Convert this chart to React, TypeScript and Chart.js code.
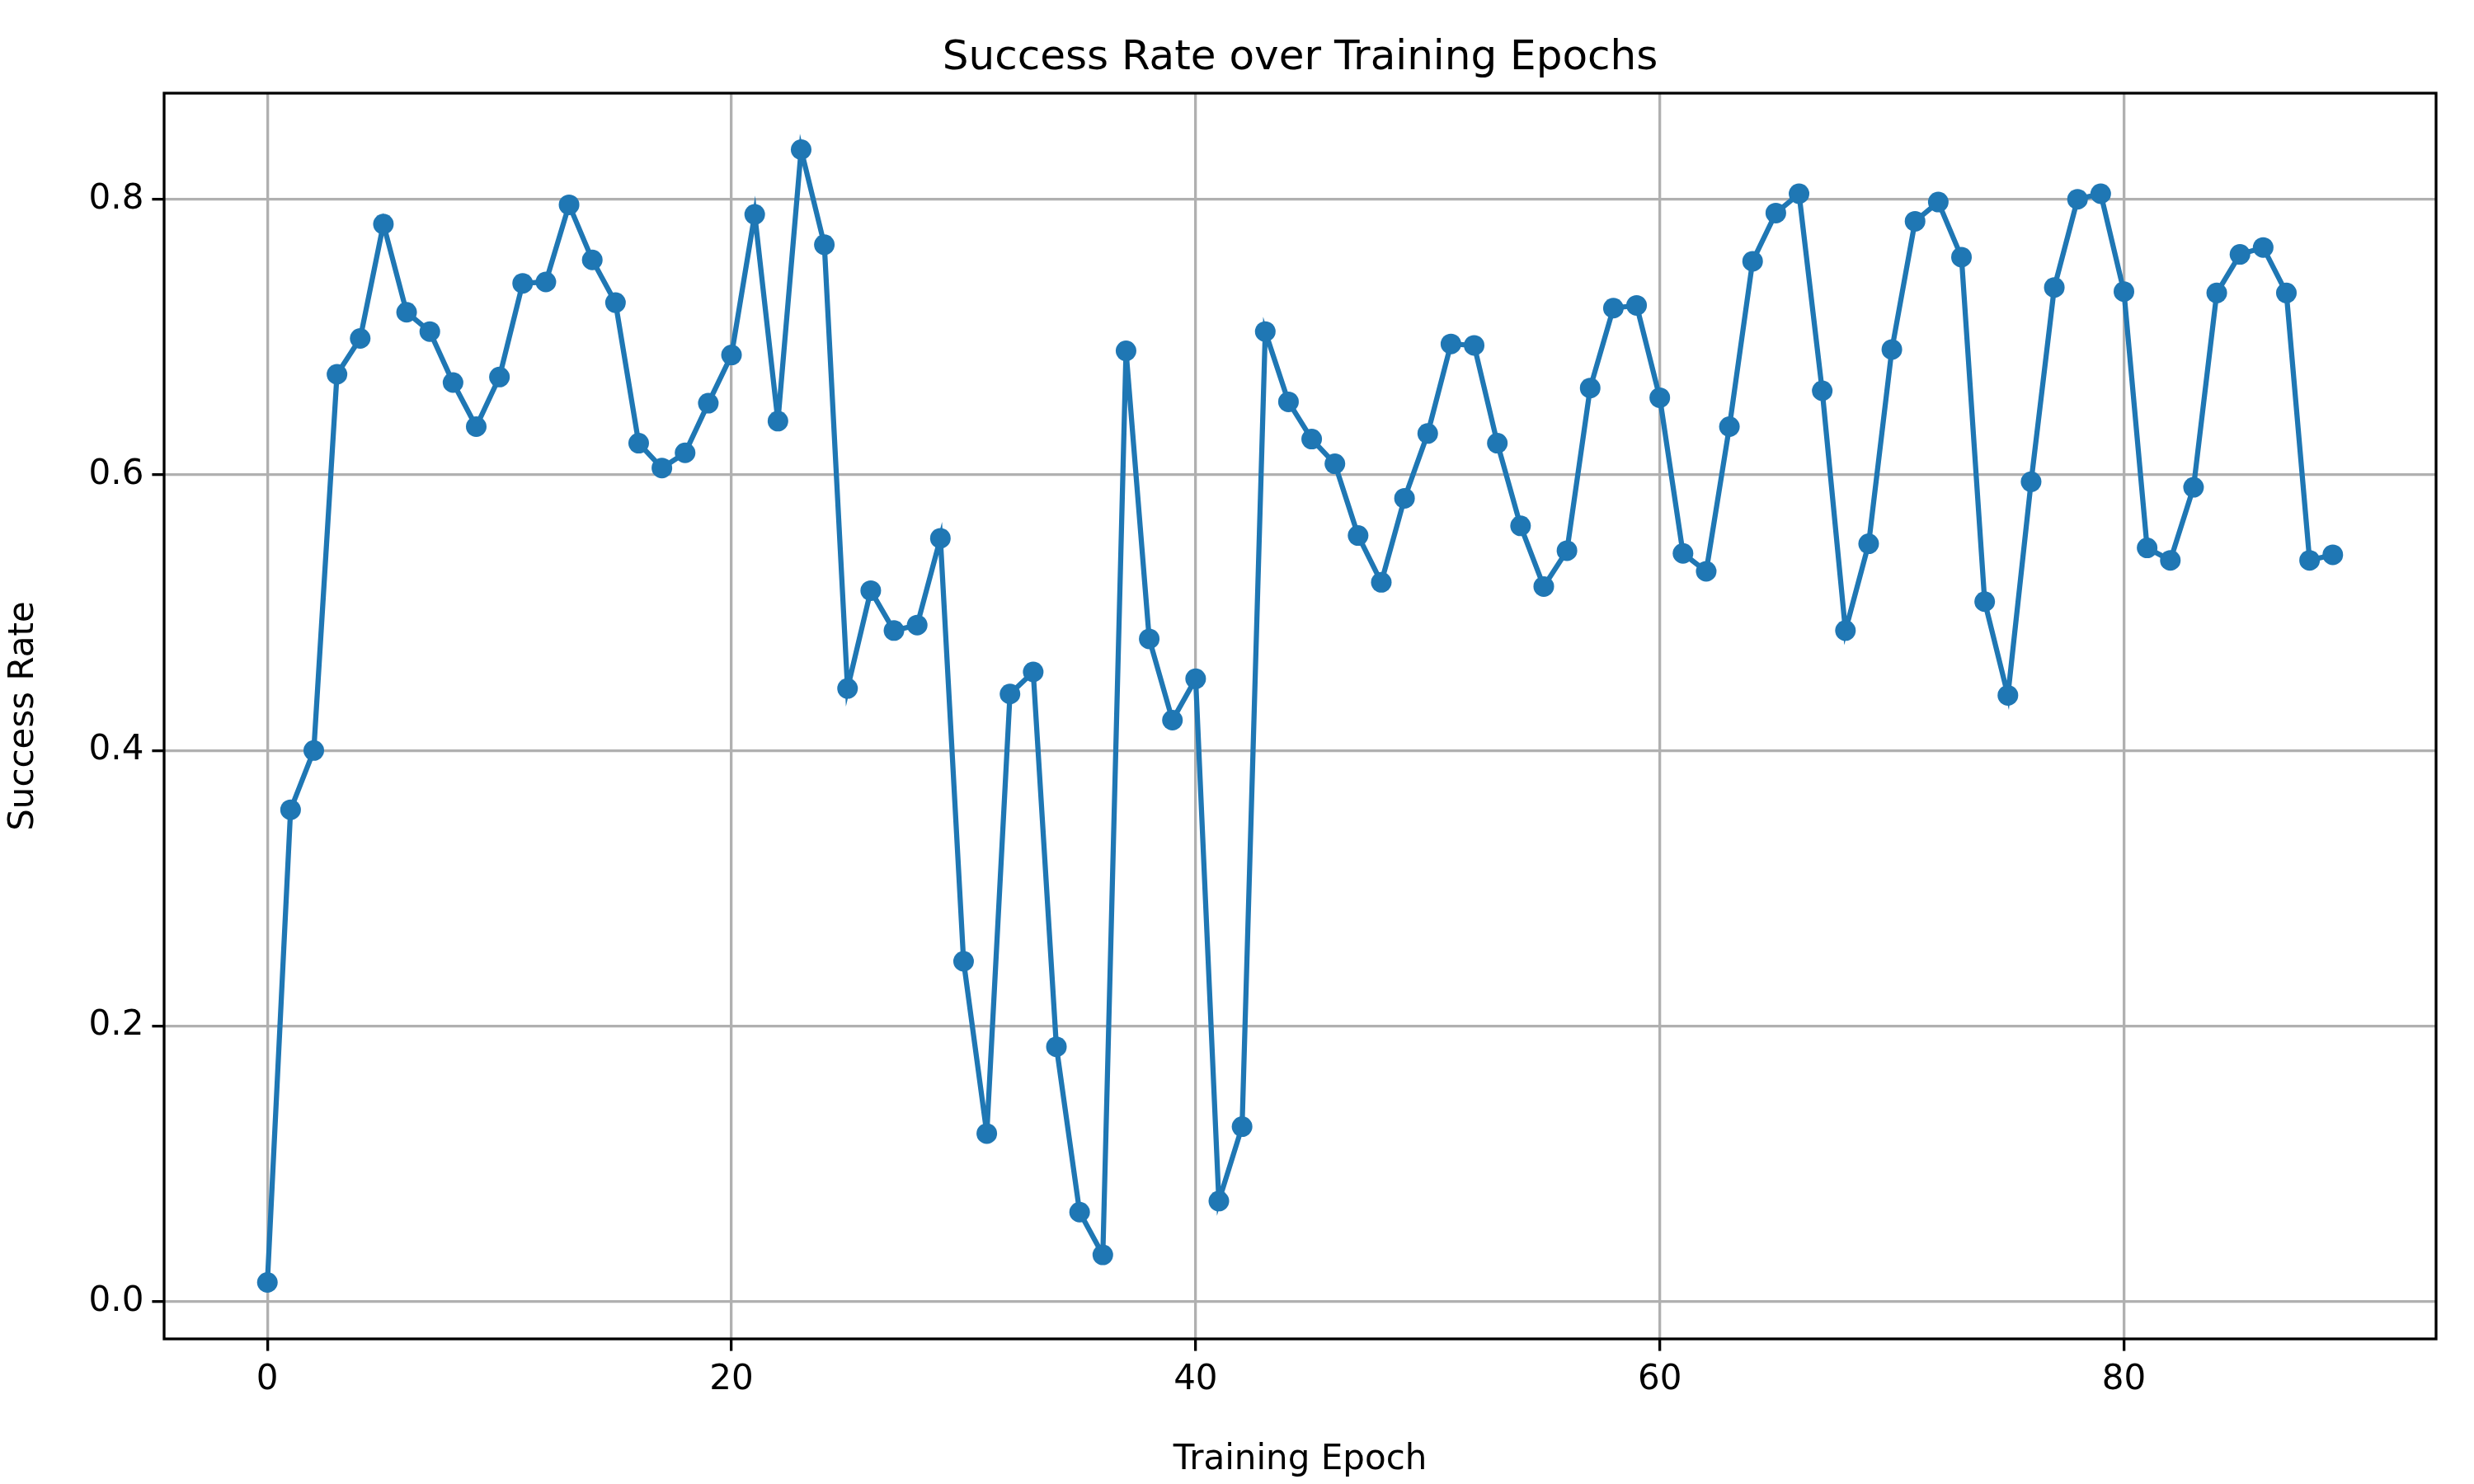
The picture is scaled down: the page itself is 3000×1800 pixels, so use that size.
import React, { useRef, useEffect } from 'react';
import Chart from 'chart.js/auto';

const epochs: number[] = Array.from({ length: 90 }, (_, i) => i);
const successRate: number[] = [
  0.014, 0.357, 0.4, 0.673, 0.699, 0.782, 0.718, 0.704, 0.667, 0.635,
  0.671, 0.739, 0.74, 0.796, 0.756, 0.725, 0.623, 0.605, 0.616, 0.652,
  0.687, 0.789, 0.639, 0.836, 0.767, 0.445, 0.516, 0.487, 0.491, 0.554,
  0.247, 0.122, 0.441, 0.457, 0.185, 0.065, 0.034, 0.69, 0.481, 0.422,
  0.452, 0.073, 0.127, 0.704, 0.653, 0.626, 0.608, 0.556, 0.522, 0.583,
  0.63, 0.695, 0.694, 0.623, 0.563, 0.519, 0.545, 0.663, 0.721, 0.723,
  0.656, 0.543, 0.53, 0.635, 0.755, 0.79, 0.804, 0.661, 0.487, 0.55,
  0.691, 0.784, 0.798, 0.758, 0.508, 0.44, 0.595, 0.736, 0.8, 0.804,
  0.733, 0.547, 0.538, 0.591, 0.732, 0.76, 0.765, 0.732, 0.538, 0.542,
];
const xTicks: number[] = [0, 20, 40, 60, 80];
const yTicks: number[] = [0, 0.2, 0.4, 0.6, 0.8];

const FONT = "'DejaVu Sans', sans-serif";

const framePlugin = {
  id: 'frame',
  afterDraw(chart: any) {
    const { ctx, chartArea: a } = chart;
    ctx.save();
    ctx.strokeStyle = '#000';
    ctx.lineWidth = 3.3;
    ctx.strokeRect(a.left, a.top, a.right - a.left, a.bottom - a.top);
    ctx.fillStyle = '#000';
    ctx.font = `50px ${FONT}`;
    ctx.textAlign = 'center';
    ctx.textBaseline = 'middle';
    ctx.fillText('Success Rate over Training Epochs', (a.left + a.right) / 2, 71);
    ctx.restore();
  },
};

const App: React.FC = () => {
  const chartRef = useRef<HTMLCanvasElement>(null);

  useEffect(() => {
    document.body.style.margin = '0';
    let chart: Chart | null = null;
    if (chartRef.current) {
      chart = new Chart(chartRef.current, {
        type: 'line',
        data: {
          datasets: [
            {
              data: epochs.map((e, i) => ({ x: e, y: successRate[i] })),
              borderColor: '#1f77b4',
              backgroundColor: '#1f77b4',
              borderWidth: 6.25,
              pointRadius: 12.5,
              pointBorderWidth: 0,
              tension: 0,
            },
          ],
        },
        options: {
          animation: false,
          responsive: false,
          devicePixelRatio: 1,
          layout: { padding: { left: 0, right: 46, top: 113, bottom: 0 } },
          plugins: { legend: { display: false }, title: { display: false }, tooltip: { enabled: false } },
          scales: {
            x: {
              type: 'linear',
              min: -4.45,
              max: 93.45,
              afterBuildTicks: (s: any) => { s.ticks = xTicks.map((v) => ({ value: v })); },
              afterFit: (s: any) => { s.height = 176; },
              grid: { color: '#b0b0b0', lineWidth: 3.3, tickColor: '#000', tickLength: 14.6 },
              border: { display: false },
              ticks: { color: '#000', font: { size: 42, family: FONT }, padding: 10 },
              title: { display: true, text: 'Training Epoch', color: '#000', font: { size: 42, family: FONT }, padding: { top: 4 } },
            },
            y: {
              type: 'linear',
              min: -0.027,
              max: 0.877,
              afterBuildTicks: (s: any) => { s.ticks = yTicks.map((v) => ({ value: v })); },
              afterFit: (s: any) => { s.width = 199; },
              grid: { color: '#b0b0b0', lineWidth: 3.3, tickColor: '#000', tickLength: 14.6 },
              border: { display: false },
              ticks: { color: '#000', font: { size: 42, family: FONT }, padding: 10, callback: (v: any) => Number(v).toFixed(1) },
              title: { display: true, text: 'Success Rate', color: '#000', font: { size: 42, family: FONT }, padding: { bottom: 4 } },
            },
          },
        },
        plugins: [framePlugin],
      });
    }
    return () => {
      if (chart) chart.destroy();
    };
  }, []);

  return (
    <div style={{ width: 3000, height: 1800, background: '#fff' }}>
      <canvas ref={chartRef} width={3000} height={1800} style={{ width: 3000, height: 1800 }} />
    </div>
  );
};

export default App;
